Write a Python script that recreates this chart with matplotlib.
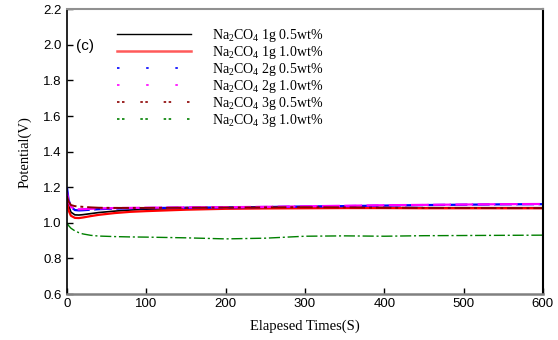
import matplotlib
matplotlib.use("Agg")
import matplotlib.pyplot as plt
from matplotlib.lines import Line2D

plt.rcParams['mathtext.fontset'] = 'custom'
plt.rcParams['mathtext.rm'] = 'Liberation Serif'
plt.rcParams['mathtext.it'] = 'Liberation Serif:italic'

# time points (s)
t = [0, 2, 5, 10, 15, 20, 30, 40, 60, 80, 100, 150, 200, 250, 300, 350, 400, 450, 500, 550, 600]

na1_05 = [1.15, 1.10, 1.06, 1.045, 1.044, 1.046, 1.052, 1.058, 1.066, 1.072, 1.077, 1.080, 1.083, 1.085, 1.087, 1.087, 1.086, 1.085, 1.085, 1.085, 1.085]
na1_10 = [1.12, 1.07, 1.04, 1.028, 1.027, 1.030, 1.038, 1.045, 1.055, 1.062, 1.066, 1.074, 1.079, 1.081, 1.082, 1.083, 1.083, 1.082, 1.082, 1.082, 1.082]
na2_05 = [1.20, 1.13, 1.09, 1.072, 1.070, 1.071, 1.074, 1.077, 1.080, 1.082, 1.083, 1.085, 1.087, 1.089, 1.092, 1.094, 1.097, 1.100, 1.102, 1.104, 1.105]
na2_10 = [1.17, 1.12, 1.09, 1.078, 1.076, 1.077, 1.079, 1.081, 1.083, 1.084, 1.085, 1.087, 1.088, 1.090, 1.093, 1.096, 1.099, 1.101, 1.103, 1.105, 1.106]
na3_05 = [1.15, 1.12, 1.10, 1.094, 1.092, 1.090, 1.087, 1.085, 1.084, 1.084, 1.084, 1.085, 1.086, 1.087, 1.088, 1.087, 1.085, 1.084, 1.084, 1.083, 1.083]
na3_10 = [1.00, 0.985, 0.97, 0.955, 0.945, 0.938, 0.930, 0.926, 0.923, 0.921, 0.920, 0.916, 0.910, 0.914, 0.925, 0.927, 0.925, 0.928, 0.929, 0.930, 0.931]

labels = ['Na$_2$CO$_4$ 1g 0.5wt%', 'Na$_2$CO$_4$ 1g 1.0wt%', 'Na$_2$CO$_4$ 2g 0.5wt%',
          'Na$_2$CO$_4$ 2g 1.0wt%', 'Na$_2$CO$_4$ 3g 0.5wt%', 'Na$_2$CO$_4$ 3g 1.0wt%']
series = [na1_05, na1_10, na2_05, na2_10, na3_05, na3_10]
colors = ['black', 'red', 'blue', 'magenta', '#8b0000', 'green']
plot_styles = [dict(ls='-', lw=1.2), dict(ls='-', lw=1.6),
               dict(ls=(0, (8, 2)), lw=1.6), dict(ls=(0, (8, 2)), lw=1.6),
               dict(ls=(0, (8, 2, 1.5, 2)), lw=1.4), dict(ls=(0, (8, 2, 1.5, 2)), lw=1.0)]
legend_styles = [dict(ls='-', lw=1.0, color='black'), dict(ls='-', lw=1.8, color='#ff5a5a'),
                 dict(ls=(0, (1.5, 16)), lw=1.2, color='blue'), dict(ls=(0, (1.5, 16)), lw=1.2, color='magenta'),
                 dict(ls=(0, (1.5, 1.5, 1.5, 9.5)), lw=1.2, color='#8b0000'),
                 dict(ls=(0, (1.5, 1.5, 1.5, 9.5)), lw=1.2, color='green')]

fig = plt.figure(figsize=(5.58, 3.40), dpi=100)
ax = fig.add_axes([0.120, 0.135, 0.853, 0.838])

for s, c, st in zip(series, colors, plot_styles):
    ax.plot(t, s, color=c, **st)

ax.set_xlim(0, 600)
ax.set_ylim(0.6, 2.2)
ax.set_xticks([0, 100, 200, 300, 400, 500, 600])
ax.set_yticks([0.6, 0.8, 1.0, 1.2, 1.4, 1.6, 1.8, 2.0, 2.2])
ax.set_yticklabels(['0.6', '0.8', '1.0', '1.2', '1.4', '1.6', '1.8', '2.0', '2.2'])
ax.tick_params(direction='in', length=4, width=1, labelsize=9.5, pad=3)
ax.tick_params(axis='y', pad=4)
for lab in ax.get_xticklabels() + ax.get_yticklabels():
    lab.set_fontfamily('Liberation Sans')

ax.spines['left'].set_color('black')
ax.spines['right'].set_color('black')
ax.spines['left'].set_linewidth(1.2)
ax.spines['right'].set_linewidth(1.5)
ax.spines['bottom'].set_color('#808080')
ax.spines['bottom'].set_linewidth(1.8)
ax.spines['top'].set_color('#909090')
ax.spines['top'].set_linewidth(1.5)

ax.set_xlabel('Elapesed Times(S)', fontfamily='Liberation Serif', fontsize=10.5, labelpad=7)
ax.set_ylabel('Potential(V)', fontfamily='Liberation Serif', fontsize=10.5, labelpad=8)

ax.text(0.018, 0.855, '(c)', transform=ax.transAxes, fontfamily='Liberation Sans', fontsize=11)

handles = [Line2D([], [], **st) for st in legend_styles]
leg = ax.legend(handles, labels, loc='upper left', bbox_to_anchor=(0.106, 0.937),
                frameon=False, borderpad=0, borderaxespad=0, handlelength=5.3,
                handletextpad=1.5, labelspacing=0.0,
                prop={'family': 'Liberation Serif', 'size': 10})

fig.savefig('out.png', dpi=100)
